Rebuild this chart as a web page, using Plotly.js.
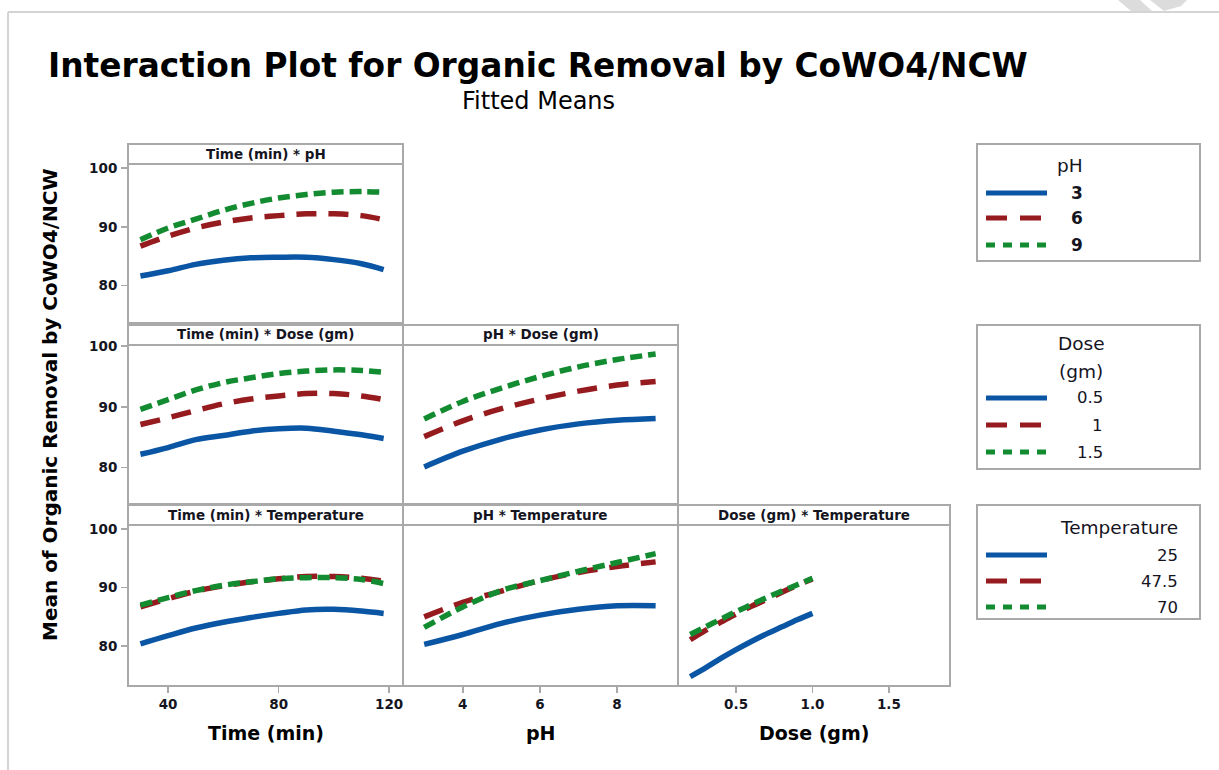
<!DOCTYPE html>
<html>
<head>
<meta charset="utf-8">
<script src="https://cdn.plot.ly/plotly-3.0.1.min.js"></script>
<style>html,body{margin:0;padding:0;background:#fff;}#chart{width:1219px;height:770px;}</style>
</head>
<body>
<div id="chart"></div>
<script>
// ---------- DATA ----------
const timeX = [30, 40, 50, 60, 70, 80, 90, 100, 110, 118];
const phX = [3, 4, 5, 6, 7, 8, 9];
const doseX = [0.2, 0.3, 0.4, 0.5, 0.6, 0.7, 0.8, 0.9, 1.0];

// Time * pH  (pH = 3, 6, 9)
const timePh_3 = [81.6, 82.5, 83.6, 84.3, 84.7, 84.8, 84.8, 84.4, 83.7, 82.7];
const timePh_6 = [86.7, 88.4, 89.8, 90.8, 91.5, 91.9, 92.2, 92.2, 91.9, 91.2];
const timePh_9 = [87.8, 89.8, 91.3, 92.8, 94.0, 94.9, 95.5, 95.9, 96.0, 95.9];

// Time * Dose (Dose = 0.5, 1, 1.5)
const timeDose_05 = [82.2, 83.3, 84.6, 85.3, 86.0, 86.4, 86.5, 86.0, 85.4, 84.8];
const timeDose_1  = [87.1, 88.2, 89.4, 90.5, 91.3, 91.8, 92.2, 92.2, 91.8, 91.2];
const timeDose_15 = [89.6, 91.2, 92.8, 94.0, 94.8, 95.5, 95.9, 96.1, 96.0, 95.7];

// pH * Dose
const phDose_05 = [80.1, 82.7, 84.7, 86.2, 87.2, 87.8, 88.1];
const phDose_1  = [85.1, 87.7, 89.7, 91.3, 92.6, 93.6, 94.2];
const phDose_15 = [88.0, 90.9, 93.1, 95.0, 96.6, 97.8, 98.7];

// Time * Temperature (Temperature = 25, 47.5, 70)
const timeTemp_25  = [80.4, 81.8, 83.1, 84.1, 84.9, 85.6, 86.2, 86.3, 86.0, 85.6];
const timeTemp_475 = [86.7, 88.1, 89.4, 90.3, 91.0, 91.5, 91.9, 91.9, 91.6, 91.1];
const timeTemp_70  = [87.0, 88.3, 89.5, 90.4, 91.0, 91.5, 91.7, 91.7, 91.4, 90.7];

// pH * Temperature
const phTemp_25  = [80.3, 82.0, 83.9, 85.3, 86.3, 86.9, 86.9];
const phTemp_475 = [85.0, 87.5, 89.4, 91.2, 92.6, 93.6, 94.4];
const phTemp_70  = [83.2, 86.7, 89.5, 91.2, 92.8, 94.3, 95.8];

// Dose * Temperature
const doseTemp_25  = [74.8, 76.3, 77.9, 79.4, 80.8, 82.1, 83.3, 84.5, 85.6];
const doseTemp_475 = [81.1, 82.7, 84.1, 85.5, 86.8, 88.0, 89.2, 90.4, 91.5];
const doseTemp_70  = [82.0, 83.3, 84.6, 85.9, 87.1, 88.3, 89.4, 90.5, 91.6];

// Text
const mainTitle = 'Interaction Plot for Organic Removal by CoWO4/NCW';
const subTitle = 'Fitted Means';
const yTitle = 'Mean of Organic Removal by CoWO4/NCW';
const panelTitles = ['Time (min) * pH', 'Time (min) * Dose (gm)', 'pH * Dose (gm)',
                     'Time (min) * Temperature', 'pH * Temperature', 'Dose (gm) * Temperature'];
const xTitles = ['Time (min)', 'pH', 'Dose (gm)'];
const yTicks = [80, 90, 100];
const timeTicks = [40, 80, 120];
const phTicks = [4, 6, 8];
const doseTicks = [0.5, 1.0, 1.5];
const legendTitles = [['pH'], ['Dose', '(gm)'], ['Temperature']];
const phLevels = ['3', '6', '9'];
const doseLevels = ['0.5', '1', '1.5'];
const tempLevels = ['25', '47.5', '70'];

// ---------- STYLE ----------
const W = 1219, H = 770;
const fx = v => v / W;
const fy = v => 1 - v / H;
const COLORS = ['#0B56A4', '#961B1F', '#138B30'];
const DASHES = ['solid', '20px,12px', '12px,6px'];
const LW = 5.5;
const GRID = '#a9a9a9';
const FONT = 'DejaVu Sans, Verdana, sans-serif';
const TXT = '#15151f';

// panel geometry (pixels)
const cols = [[128, 403], [403, 678], [678, 950]];
const rows = [[164, 323], [345, 504], [525, 686]];
const headerH = 20;
const yRanges = [[73.6, 100.7], [74.0, 100.2], [73.2, 100.7]];
const xRanges = [[25.5, 125], [2.45, 9.58], [0.12, 1.9]];

// panels: [row, col, xData, series]
const panels = [
  [0, 0, timeX, [timePh_3, timePh_6, timePh_9]],
  [1, 0, timeX, [timeDose_05, timeDose_1, timeDose_15]],
  [1, 1, phX, [phDose_05, phDose_1, phDose_15]],
  [2, 0, timeX, [timeTemp_25, timeTemp_475, timeTemp_70]],
  [2, 1, phX, [phTemp_25, phTemp_475, phTemp_70]],
  [2, 2, doseX, [doseTemp_25, doseTemp_475, doseTemp_70]]
];

const traces = [];
const layout = {
  width: W, height: H,
  margin: {l: 0, r: 0, t: 0, b: 0},
  paper_bgcolor: '#ffffff', plot_bgcolor: '#ffffff',
  showlegend: false,
  font: {family: FONT, color: TXT},
  shapes: [], annotations: []
};

const xTickSets = [timeTicks, phTicks, doseTicks];
const xTickFmt = ['', '', '.1f'];

panels.forEach((p, i) => {
  const [r, c, xs, series] = p;
  const n = i + 1;
  const xa = n === 1 ? 'xaxis' : 'xaxis' + n;
  const ya = n === 1 ? 'yaxis' : 'yaxis' + n;
  const xr = n === 1 ? 'x' : 'x' + n;
  const yr = n === 1 ? 'y' : 'y' + n;
  series.forEach((ys, k) => {
    traces.push({
      type: 'scatter', mode: 'lines', x: xs, y: ys, xaxis: xr, yaxis: yr,
      line: {color: COLORS[k], width: LW, dash: DASHES[k], shape: 'spline', smoothing: 1},
      hoverinfo: 'skip'
    });
  });
  const bottom = r === 2;
  const left = c === 0;
  layout[xa] = {
    domain: [fx(cols[c][0]), fx(cols[c][1])], range: xRanges[c], autorange: false,
    anchor: yr, showgrid: false, zeroline: false, showline: false,
    tickvals: bottom ? xTickSets[c] : [], tickformat: xTickFmt[c],
    ticks: bottom ? 'outside' : '', ticklen: 6, tickwidth: 1.5, tickcolor: GRID,
    showticklabels: bottom, tickfont: {family: FONT, size: 13.5, color: TXT, weight: 'bold'},
    fixedrange: true
  };
  layout[ya] = {
    domain: [fy(rows[r][1]), fy(rows[r][0])], range: yRanges[r], autorange: false,
    anchor: xr, showgrid: false, zeroline: false, showline: false,
    tickvals: left ? yTicks : [],
    ticks: left ? 'outside' : '', ticklen: 6, tickwidth: 1.5, tickcolor: GRID,
    showticklabels: left, tickfont: {family: FONT, size: 13.5, color: TXT, weight: 'bold'},
    ticklabelstandoff: 1,
    fixedrange: true
  };
  // plot border
  layout.shapes.push({type: 'rect', xref: 'paper', yref: 'paper', layer: 'above',
    x0: fx(cols[c][0]), x1: fx(cols[c][1]), y0: fy(rows[r][1]), y1: fy(rows[r][0]),
    line: {color: GRID, width: 2}});
  // header strip
  layout.shapes.push({type: 'rect', xref: 'paper', yref: 'paper', layer: 'above',
    x0: fx(cols[c][0]), x1: fx(cols[c][1]), y0: fy(rows[r][0]), y1: fy(rows[r][0] - headerH),
    line: {color: GRID, width: 2}, fillcolor: 'rgba(0,0,0,0)'});
  layout.annotations.push({xref: 'paper', yref: 'paper', showarrow: false,
    x: fx((cols[c][0] + cols[c][1]) / 2), y: fy(rows[r][0] - headerH / 2 - 0.5),
    xanchor: 'center', yanchor: 'middle', text: panelTitles[i],
    font: {family: FONT, size: 13.5, color: TXT, weight: 'bold'}});
});

// outer image frame
layout.shapes.push({type: 'line', xref: 'paper', yref: 'paper', x0: fx(8), x1: 1, y0: fy(12), y1: fy(12),
  line: {color: '#d4d4d4', width: 2}});
layout.shapes.push({type: 'line', xref: 'paper', yref: 'paper', x0: fx(8), x1: fx(8), y0: fy(12), y1: 0,
  line: {color: '#d4d4d4', width: 2}});
// watermark fragment at top right
layout.shapes.push({type: 'path', xref: 'paper', yref: 'paper', layer: 'below',
  path: `M ${fx(1118)} ${fy(0)} L ${fx(1140)} ${fy(0)} L ${fx(1152)} ${fy(11)} L ${fx(1131)} ${fy(11)} Z`,
  fillcolor: '#dcdcdc', line: {width: 0}});
layout.shapes.push({type: 'path', xref: 'paper', yref: 'paper', layer: 'below',
  path: `M ${fx(1150)} ${fy(0)} L ${fx(1187)} ${fy(0)} L ${fx(1181)} ${fy(6)} L ${fx(1164)} ${fy(11)} Z`,
  fillcolor: '#dcdcdc', line: {width: 0}});

// titles
layout.annotations.push({xref: 'paper', yref: 'paper', showarrow: false,
  x: fx(538), y: fy(66), xanchor: 'center', yanchor: 'middle', text: mainTitle,
  font: {family: FONT, size: 32.8, color: '#000', weight: 'bold'}});
layout.annotations.push({xref: 'paper', yref: 'paper', showarrow: false,
  x: fx(538), y: fy(101), xanchor: 'center', yanchor: 'middle', text: subTitle,
  font: {family: FONT, size: 24, color: '#000'}});
layout.annotations.push({xref: 'paper', yref: 'paper', showarrow: false,
  x: fx(50), y: fy(405), xanchor: 'center', yanchor: 'middle', textangle: -90, text: yTitle,
  font: {family: FONT, size: 20, color: '#000', weight: 'bold'}});
xTitles.forEach((t, c) => {
  layout.annotations.push({xref: 'paper', yref: 'paper', showarrow: false,
    x: fx((cols[c][0] + cols[c][1]) / 2), y: fy(733), xanchor: 'center', yanchor: 'middle', text: t,
    font: {family: FONT, size: 19, color: '#000', weight: 'bold'}});
});

// legends
const legBoxes = [
  {top: 144, bottom: 261, titleY: [166], itemY: [193, 218, 245], labels: phLevels, bold: true, align: 'center', lx: 1077, tx: 1070},
  {top: 325, bottom: 469, titleY: [343, 372], itemY: [398, 425, 452], labels: doseLevels, bold: false, align: 'right', lx: 1105, tx: 1081},
  {top: 505, bottom: 619, titleY: [527], itemY: [555, 581, 607], labels: tempLevels, bold: false, align: 'right', lx: 1180, tx: 1119}
];
const legDash = ['solid', '21px,13px', '9px,8px'];
legBoxes.forEach((b, bi) => {
  layout.shapes.push({type: 'rect', xref: 'paper', yref: 'paper',
    x0: fx(977), x1: fx(1200), y0: fy(b.bottom), y1: fy(b.top),
    line: {color: GRID, width: 2}, fillcolor: '#ffffff'});
  legendTitles[bi].forEach((t, ti) => {
    layout.annotations.push({xref: 'paper', yref: 'paper', showarrow: false,
      x: fx(b.tx), y: fy(b.titleY[ti]), xanchor: 'center', yanchor: 'middle', text: t,
      font: {family: FONT, size: 18.5, color: TXT}});
  });
  b.labels.forEach((lab, k) => {
    layout.shapes.push({type: 'line', xref: 'paper', yref: 'paper',
      x0: fx(986), x1: fx(k === 1 ? 1041 : 1047), y0: fy(b.itemY[k]), y1: fy(b.itemY[k]),
      line: {color: COLORS[k], width: 5, dash: legDash[k]}});
    layout.annotations.push({xref: 'paper', yref: 'paper', showarrow: false,
      x: fx(b.lx), y: fy(b.itemY[k]), xanchor: b.align, yanchor: 'middle', text: lab,
      font: {family: FONT, size: b.bold ? 17 : 16.5, color: TXT, weight: b.bold ? 'bold' : 'normal'}});
  });
});

Plotly.newPlot('chart', traces, layout, {staticPlot: true, displayModeBar: false});
</script>
</body>
</html>
